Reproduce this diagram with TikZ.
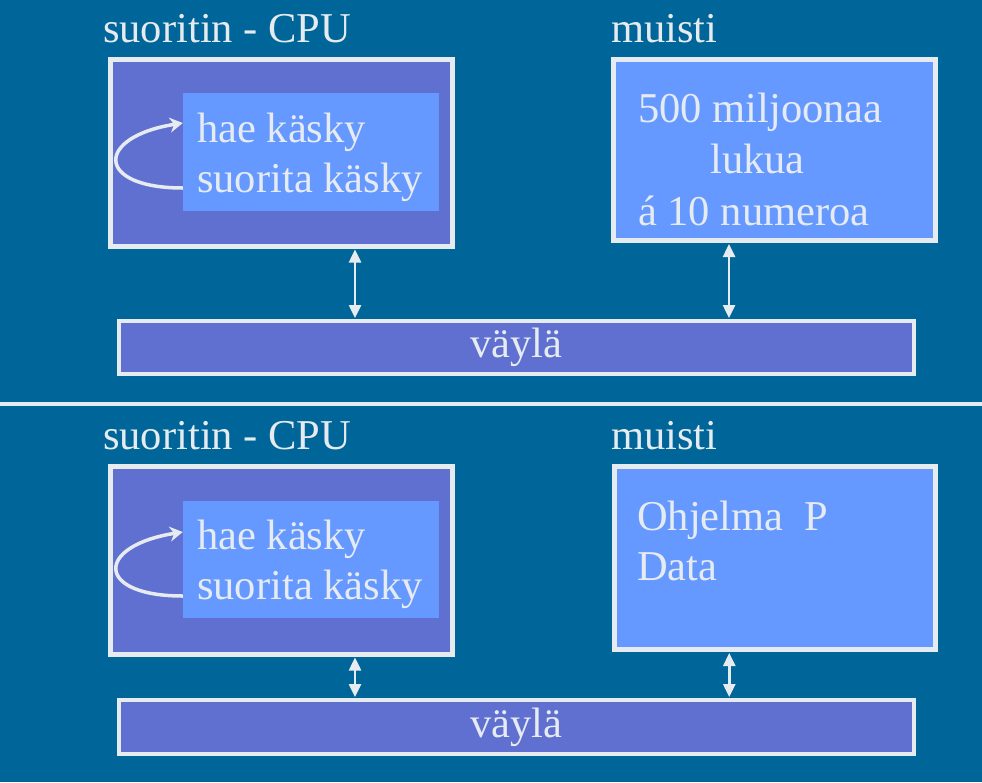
\documentclass[tikz,border=0pt]{standalone}
\usepackage{fontspec}
\setmainfont{Liberation Serif}
\usetikzlibrary{shapes,arrows.meta}
\definecolor{bgblue}{RGB}{0,102,153}
\definecolor{cpufill}{RGB}{96,112,208}
\definecolor{memfill}{RGB}{102,153,255}
\definecolor{edgegray}{RGB}{230,235,240}
\tikzset{
	unit/.style={rectangle, draw=edgegray, line width=5pt, inner sep=0pt},
	cpubox/.style={unit, fill=cpufill},
	membox/.style={unit, fill=memfill},
	busbox/.style={unit, fill=cpufill, line width=4pt, text=edgegray, font=\fontsize{42.5}{50}\selectfont},
	inbox/.style={rectangle, fill=memfill, inner sep=0pt},
	lbl/.style={text=edgegray, inner sep=0pt, font=\fontsize{42.5}{50}\selectfont},
	vlink/.style={draw=edgegray, line width=2.5pt, shorten <=1pt, shorten >=1pt, {Triangle[width=12pt,length=13pt]}-{Triangle[width=12pt,length=13pt]}},
	fetchloop/.style={draw=edgegray, line width=3.5pt, -{Stealth[width=15pt,length=13pt]}}
}
\begin{document}
\begin{tikzpicture}[x=1pt, y=-1pt]
		\fill [bgblue] (0,0) rectangle (982,782);
		\useasboundingbox (0,0) rectangle (982,782);
		\node [lbl, anchor=base west] (cpuname1) at (103,42) {suoritin - CPU};
		\node [lbl, anchor=base west] (memname1) at (611,42) {muisti};
		\node [cpubox, minimum width=342pt, minimum height=186.5pt] (cpu1) at (281,152.75) {};
		\node [inbox, minimum width=256pt, minimum height=118pt] (in1) at (311,152) {};
		\node [lbl, anchor=west, align=left] (op1) at (197,157) {hae käsky\\suorita käsky};
		\draw [fetchloop] ([yshift=-36pt]in1.west) .. controls +(-88pt,0pt) and +(-88pt,-14pt) .. ([yshift=29pt]in1.west);
		\node [membox, minimum width=322pt, minimum height=181pt] (mem1) at (774.5,150) {};
		\node [lbl, anchor=west, align=left, font=\fontsize{42.5}{51.5}\selectfont] (data1) at (638,159.4) {500 miljoonaa\\\hspace*{72pt}lukua\\á 10 numeroa};
		\node [busbox, minimum width=795pt, minimum height=53pt] (bus1) at (516.5,347.5) {väylä};
		\draw [vlink] ([xshift=74pt]cpu1.south) -- ([xshift=74pt]cpu1.south |- bus1.north);
		\draw [vlink] ([xshift=-45.5pt]mem1.south) -- ([xshift=-45.5pt]mem1.south |- bus1.north);
		\draw [edgegray, line width=4pt] (0,404) -- (982,404);
		\node [lbl, anchor=base west] (cpuname2) at (103,449) {suoritin - CPU};
		\node [lbl, anchor=base west] (memname2) at (611,449) {muisti};
		\node [cpubox, minimum width=342pt, minimum height=188pt] (cpu2) at (281,560) {};
		\node [inbox, minimum width=256pt, minimum height=117pt] (in2) at (311,559.5) {};
		\node [lbl, anchor=west, align=left] (op2) at (197,564.5) {hae käsky\\suorita käsky};
		\draw [fetchloop] ([yshift=-36.5pt]in2.west) .. controls +(-88pt,0pt) and +(-88pt,-14pt) .. ([yshift=27.5pt]in2.west);
		\node [membox, minimum width=321.5pt, minimum height=183pt] (mem2) at (774.75,558) {};
		\node [lbl, anchor=west, align=left] (data2) at (637,540.7) {Ohjelma\ \ P\\Data};
		\node [busbox, minimum width=795pt, minimum height=54pt] (bus2) at (516.5,727) {väylä};
		\draw [vlink] ([xshift=74pt]cpu2.south) -- ([xshift=74pt]cpu2.south |- bus2.north);
		\draw [vlink] ([xshift=-45.5pt]mem2.south) -- ([xshift=-45.5pt]mem2.south |- bus2.north);
\end{tikzpicture}
\end{document}
